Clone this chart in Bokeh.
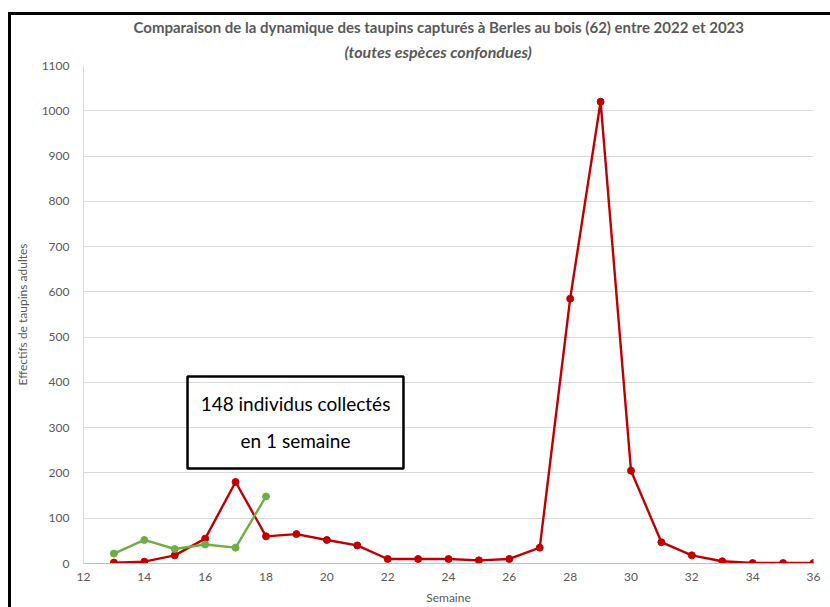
from bokeh.plotting import figure
from bokeh.models import (ColumnDataSource, Legend, LegendItem, BoxAnnotation, Label,
                          FixedTicker, Range1d, Title)
from bokeh.embed import file_html
from bokeh.resources import INLINE

# ---- data ----
weeks_2022 = list(range(13, 37))
vals_2022 = [2, 4, 18, 55, 180, 60, 65, 52, 40, 10, 10, 10, 7, 10, 35,
             585, 1020, 205, 47, 18, 5, 1, 1, 1]
weeks_2023 = [13, 14, 15, 16, 17, 18]
vals_2023 = [22, 52, 32, 42, 35, 148]
x_ticks = list(range(12, 37, 2))
y_ticks = list(range(0, 1101, 100))
title_txt = "Comparaison de la dynamique des taupins capturés à Berles au bois (62) entre 2022 et 2023"
subtitle_txt = "(toutes espèces confondues)"
box_lines = ["148 individus collectés", "en 1 semaine"]

RED = "#C00000"
GREEN = "#70AD47"
GREY = "#595959"
FONT = "Lato"

p = figure(frame_width=730, frame_height=498, output_backend="svg", toolbar_location=None,
           x_range=Range1d(12, 36), y_range=Range1d(0, 1100),
           min_border_left=72, min_border_right=17, min_border_top=50, min_border_bottom=44)
p.outline_line_color = None
p.background_fill_color = "white"
p.styles = {"border-left": "3px solid black", "border-top": "3px solid black",
            "margin-top": "12px", "margin-left": "8px"}

# axes
for ax in (p.xaxis[0], p.yaxis[0]):
    ax.major_tick_line_color = None
    ax.minor_tick_line_color = None
    ax.major_label_text_font = FONT
    ax.major_label_text_font_size = "12px"
    ax.major_label_text_color = GREY
    ax.axis_label_text_font = FONT
    ax.axis_label_text_font_size = "12px"
    ax.axis_label_text_color = GREY
    ax.axis_label_text_font_style = "normal"
    ax.axis_line_color = "#D9D9D9"
p.xaxis[0].ticker = FixedTicker(ticks=x_ticks)
p.yaxis[0].ticker = FixedTicker(ticks=y_ticks)
p.xaxis[0].axis_label = "Semaine"
p.yaxis[0].axis_label = "Effectifs de taupins adultes"
p.xaxis[0].axis_line_color = "#BFBFBF"
p.xaxis[0].major_label_standoff = 3
p.xaxis[0].axis_label_standoff = 6
p.yaxis[0].major_label_standoff = 8
p.yaxis[0].axis_label_standoff = 9
p.xgrid.grid_line_color = None
p.ygrid.grid_line_color = "#D9D9D9"
p.ygrid.grid_line_width = 1

src22 = ColumnDataSource(dict(x=weeks_2022, y=vals_2022))
src23 = ColumnDataSource(dict(x=weeks_2023, y=vals_2023))
l22 = p.line("x", "y", source=src22, line_color=RED, line_width=2.4)
c22 = p.scatter("x", "y", source=src22, size=7, fill_color=RED, line_color=RED)
l23 = p.line("x", "y", source=src23, line_color=GREEN, line_width=2.4)
c23 = p.scatter("x", "y", source=src23, size=7, fill_color=GREEN, line_color=GREEN)

legend = Legend(items=[LegendItem(label="2022", renderers=[l22, c22]),
                       LegendItem(label="2023", renderers=[l23, c23])],
                orientation="horizontal", location=(504, 22),
                glyph_width=27, glyph_height=10, label_standoff=3, spacing=17,
                padding=0, margin=0, border_line_color=None, background_fill_alpha=0,
                label_text_font=FONT, label_text_font_size="12px", label_text_color=GREY,
                label_height=10)
p.add_layout(legend, "below")

# titles: subtitle first (closest to frame), then main title
p.add_layout(Title(text=subtitle_txt, align="left", offset=261, text_font=FONT,
                   text_font_size="16px", text_font_style="bold italic", text_color=GREY,
                   standoff=9), "above")
p.add_layout(Title(text=title_txt, align="left", offset=50, text_font=FONT,
                   text_font_size="15px", text_font_style="bold", text_color=GREY,
                   standoff=0), "above")

# annotation box
p.add_layout(BoxAnnotation(left=15.42, right=22.52, bottom=210, top=413,
                           fill_alpha=0, line_color="black", line_width=2.5, line_alpha=1))
p.add_layout(Label(x=18.97, y=353, text=box_lines[0], text_align="center", text_baseline="middle",
                   text_font=FONT, text_font_size="19px", text_color="black"))
p.add_layout(Label(x=18.97, y=272, text=box_lines[1], text_align="center", text_baseline="middle",
                   text_font=FONT, text_font_size="19px", text_color="black"))

open("out.html", "w").write(file_html(p, INLINE))
